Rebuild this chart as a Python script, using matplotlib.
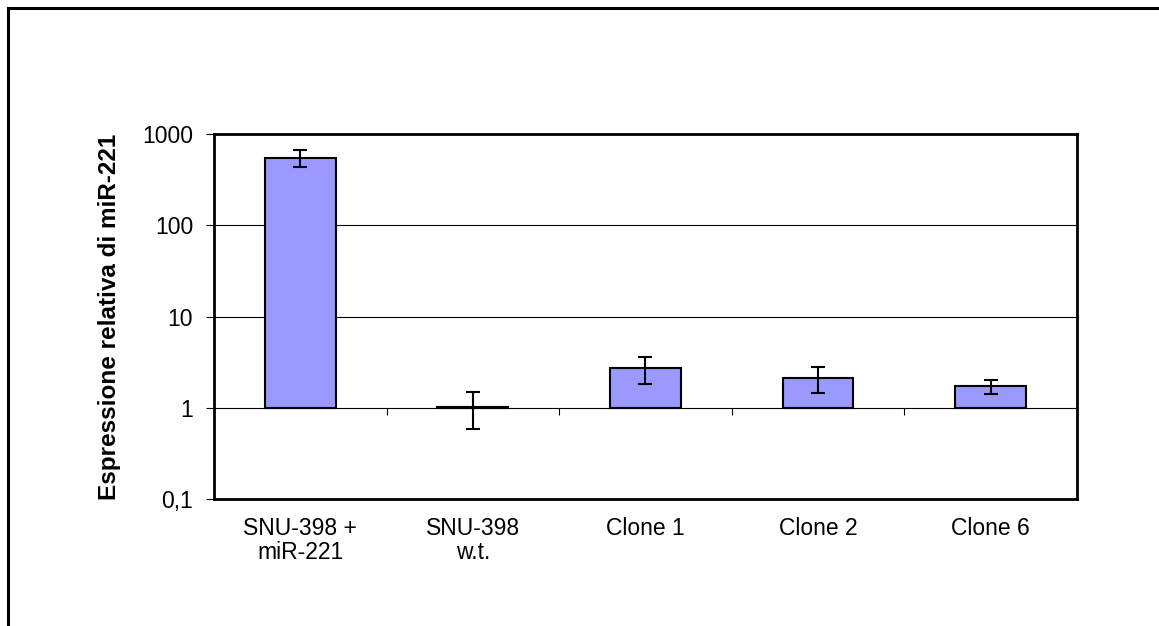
import matplotlib
matplotlib.use('Agg')
import matplotlib.pyplot as plt
from matplotlib.lines import Line2D
import numpy as np

plt.rcParams['font.family'] = ['Liberation Sans', 'DejaVu Sans']

categories = ['SNU-398 +\nmiR-221', 'SNU-398\nw.t.', 'Clone 1', 'Clone 2', 'Clone 6']
expression = [550, 1.03, 2.72, 2.13, 1.72]
errors = [120, 0.45, 0.9, 0.67, 0.3]
y_ticks = [0.1, 1, 10, 100, 1000]
y_ticklabels = ['0,1', '1', '10', '100', '1000']

bar_color = '#9999ff'
baseline = 1

fig = plt.figure(figsize=(11.59, 6.26), dpi=100)
ax = fig.add_axes([0.1846, 0.2029, 0.7446, 0.583])

x = np.arange(len(categories))
heights = [v - baseline for v in expression]
ax.bar(x, heights, bottom=baseline, width=0.41, color=bar_color,
       edgecolor='black', linewidth=1.5, zorder=3)
ax.errorbar(x, expression, yerr=errors, fmt='none', ecolor='black',
            elinewidth=1.5, capsize=5, capthick=1.5, zorder=4)

ax.set_yscale('log')
ax.set_ylim(0.1, 1000)
ax.set_xlim(-0.5, len(categories) - 0.5)
ax.set_yticks(y_ticks)
ax.set_yticklabels(y_ticklabels)
ax.yaxis.set_minor_locator(matplotlib.ticker.NullLocator())
ax.tick_params(axis='y', direction='out', length=6, width=0.8, labelsize=16.5, pad=9)

ax.set_xticks(x)
ax.set_xticklabels(categories, linespacing=1.05)
ax.tick_params(axis='x', length=0, labelsize=16.5, pad=13)

ax.yaxis.grid(True, color='black', linewidth=0.8, zorder=0)
ax.set_axisbelow(True)
for sp in ax.spines.values():
    sp.set_linewidth(2)

# category axis crossing at y = 1, with separator ticks between groups
frac = (np.log10(baseline) - np.log10(0.1)) / (np.log10(1000) - np.log10(0.1))
sec = ax.secondary_xaxis(frac)
sec.set_xticks(x[:-1] + 0.5)
sec.set_xticklabels([])
sec.tick_params(axis='x', direction='out', length=5, width=0.8)
sec.spines['bottom'].set_visible(False)

ax.set_ylabel('Espressione relativa di miR-221', fontsize=17.5, fontweight='bold', labelpad=15)

# outer frame lines
fig.add_artist(Line2D([8 / 1159, 8 / 1159], [0, 1 - 8 / 626], color='black', linewidth=2.2,
                      transform=fig.transFigure))
fig.add_artist(Line2D([8 / 1159, 1], [1 - 8 / 626, 1 - 8 / 626], color='black', linewidth=2.2,
                      transform=fig.transFigure))

fig.savefig('out.png', dpi=100)
